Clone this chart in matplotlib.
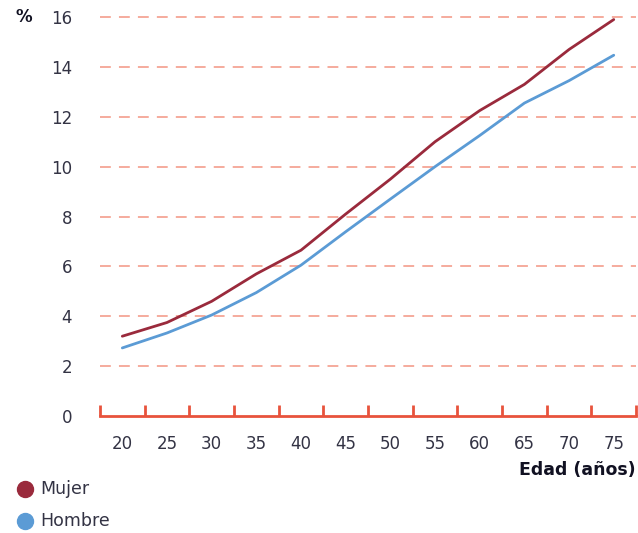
import numpy as np
import matplotlib.pyplot as plt
from matplotlib.lines import Line2D

# edades y porcentajes por sexo
edades = [20, 25, 30, 35, 40, 45, 50, 55, 60, 65, 70, 75]
mujer = [3.2, 3.75, 4.6, 5.7, 6.65, 8.1, 9.5, 11.0, 12.25, 13.3, 14.7, 15.9]
hombre = [2.73, 3.33, 4.05, 4.95, 6.05, 7.39, 8.7, 10.0, 11.25, 12.55, 13.45, 14.47]
yticks = [0, 2, 4, 6, 8, 10, 12, 14, 16]

c_mujer = '#9a2a3c'
c_hombre = '#5b9bd5'
c_eje = '#e8533c'
c_grid = '#f5a595'
c_texto = '#333344'

plt.rcParams['font.family'] = ['DejaVu Sans']

fig = plt.figure(figsize=(6.38, 5.33), dpi=100)
ax = fig.add_axes([0.1567, 0.2195, 0.8403, 0.7485])

ax.plot(edades, mujer, color=c_mujer, lw=2.0, solid_capstyle='round')
ax.plot(edades, hombre, color=c_hombre, lw=2.0, solid_capstyle='round')

ax.set_ylim(0, 16)
ax.set_xlim(17.5, 77.5)

# lineas de referencia discontinuas
for y in yticks[1:]:
    ax.axhline(y, color=c_grid, lw=1.3, dashes=(6, 4.5), zorder=0,
               clip_on=False)
ax.axhline(0, color=c_eje, lw=2, zorder=3, clip_on=False)

for s in ax.spines.values():
    s.set_visible(False)

ax.set_yticks(yticks)
ax.set_yticklabels([str(v) for v in yticks], fontsize=12, color=c_texto)
ax.tick_params(axis='y', length=0, pad=20)

# marcas entre categorias, etiquetas centradas
ax.set_xticks(np.arange(17.5, 78, 5))
ax.set_xticklabels([])
ax.tick_params(axis='x', which='major', direction='in', length=8, width=2,
               color=c_eje)
ax.set_xticks(edades, minor=True)
ax.set_xticklabels([str(e) for e in edades], minor=True, fontsize=12,
                   color=c_texto)
ax.tick_params(axis='x', which='minor', length=0, pad=14)

fig.text(15 / 638, 1 - 17 / 533, '%', fontsize=12, fontweight='bold',
         color='#111122', va='center', ha='left')
fig.text(636 / 638, 1 - 470 / 533, 'Edad (años)', fontsize=12.5,
         fontweight='bold', color='#111122', va='center', ha='right')

# leyenda manual
for yy, col, lab in [(489, c_mujer, 'Mujer'), (521, c_hombre, 'Hombre')]:
    fig.add_artist(Line2D([25 / 638], [1 - yy / 533], marker='o', ms=11.5,
                          color=col, transform=fig.transFigure))
    fig.text(40 / 638, 1 - yy / 533, lab, fontsize=12.5, color=c_texto,
             va='center', ha='left')

fig.savefig('out.png', dpi=100)
